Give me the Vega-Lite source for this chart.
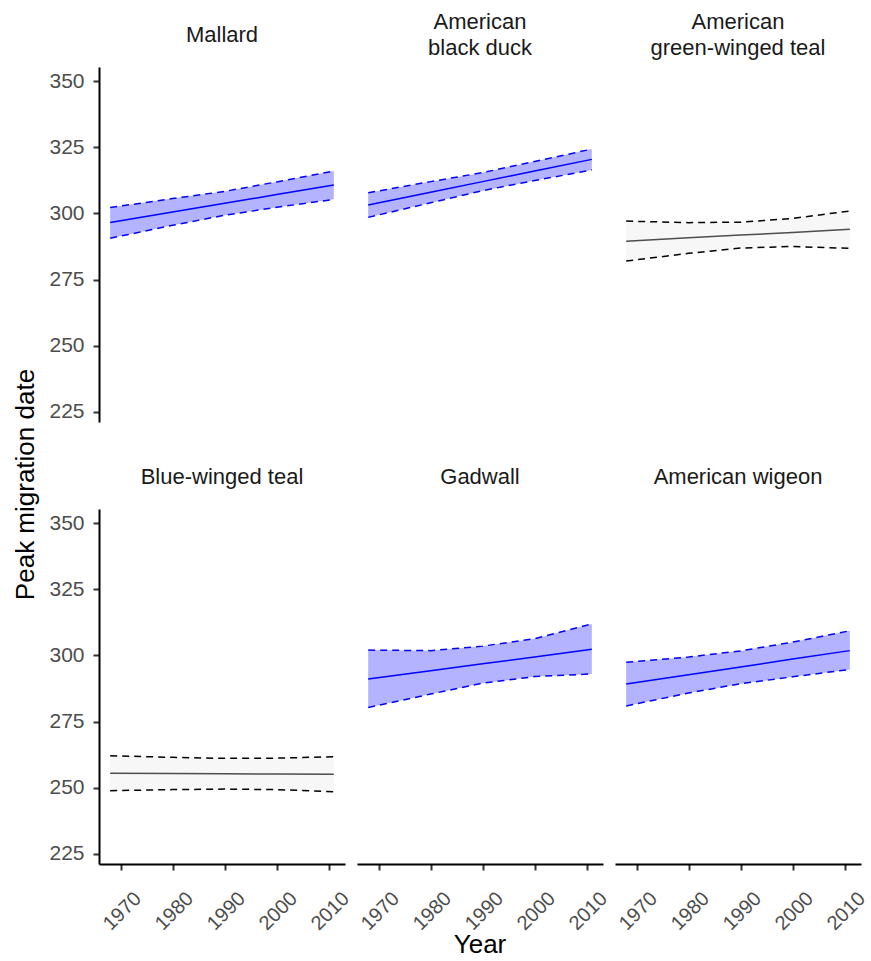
{
  "$schema": "https://vega.github.io/schema/vega-lite/v6.json",
  "padding": {"left": 12, "top": 11, "right": 5, "bottom": 0},
  "title": {
    "text": "Peak migration date",
    "orient": "left",
    "anchor": "middle",
    "font": "Liberation Sans",
    "fontSize": 26,
    "fontWeight": "normal",
    "color": "#000000",
    "offset": 10
  },
  "data": {"values": [
    {"species": "Mallard", "order": 1, "sig": true, "year": 1968, "lwr": 290.6, "fit": 296.6, "upr": 302.2},
    {"species": "Mallard", "order": 1, "sig": true, "year": 1980, "lwr": 295.5, "fit": 300.5, "upr": 305.6},
    {"species": "Mallard", "order": 1, "sig": true, "year": 1990, "lwr": 299.3, "fit": 303.8, "upr": 308.3},
    {"species": "Mallard", "order": 1, "sig": true, "year": 2000, "lwr": 302.3, "fit": 307.1, "upr": 311.9},
    {"species": "Mallard", "order": 1, "sig": true, "year": 2011, "lwr": 305.3, "fit": 310.7, "upr": 316.0},
    {"species": "American black duck", "order": 2, "sig": true, "year": 1968, "lwr": 298.5, "fit": 303.2, "upr": 307.8},
    {"species": "American black duck", "order": 2, "sig": true, "year": 1980, "lwr": 304.0, "fit": 308.0, "upr": 312.0},
    {"species": "American black duck", "order": 2, "sig": true, "year": 1990, "lwr": 308.6, "fit": 312.0, "upr": 315.4},
    {"species": "American black duck", "order": 2, "sig": true, "year": 2000, "lwr": 312.4, "fit": 316.0, "upr": 319.6},
    {"species": "American black duck", "order": 2, "sig": true, "year": 2011, "lwr": 316.4, "fit": 320.4, "upr": 324.3},
    {"species": "American green-winged teal", "order": 3, "sig": false, "year": 1968, "lwr": 282.0, "fit": 289.5, "upr": 297.1},
    {"species": "American green-winged teal", "order": 3, "sig": false, "year": 1980, "lwr": 284.9, "fit": 290.8, "upr": 296.5},
    {"species": "American green-winged teal", "order": 3, "sig": false, "year": 1990, "lwr": 286.9, "fit": 291.8, "upr": 296.7},
    {"species": "American green-winged teal", "order": 3, "sig": false, "year": 2000, "lwr": 287.5, "fit": 292.8, "upr": 298.1},
    {"species": "American green-winged teal", "order": 3, "sig": false, "year": 2011, "lwr": 286.8, "fit": 294.0, "upr": 300.9},
    {"species": "Blue-winged teal", "order": 4, "sig": false, "year": 1968, "lwr": 248.9, "fit": 255.5, "upr": 262.1},
    {"species": "Blue-winged teal", "order": 4, "sig": false, "year": 1980, "lwr": 249.3, "fit": 255.4, "upr": 261.5},
    {"species": "Blue-winged teal", "order": 4, "sig": false, "year": 1990, "lwr": 249.5, "fit": 255.3, "upr": 261.1},
    {"species": "Blue-winged teal", "order": 4, "sig": false, "year": 2000, "lwr": 249.3, "fit": 255.2, "upr": 261.2},
    {"species": "Blue-winged teal", "order": 4, "sig": false, "year": 2011, "lwr": 248.5, "fit": 255.1, "upr": 261.7},
    {"species": "Gadwall", "order": 5, "sig": true, "year": 1968, "lwr": 280.3, "fit": 291.1, "upr": 302.0},
    {"species": "Gadwall", "order": 5, "sig": true, "year": 1980, "lwr": 285.4, "fit": 294.2, "upr": 301.8},
    {"species": "Gadwall", "order": 5, "sig": true, "year": 1990, "lwr": 289.5, "fit": 296.8, "upr": 303.5},
    {"species": "Gadwall", "order": 5, "sig": true, "year": 2000, "lwr": 292.0, "fit": 299.4, "upr": 306.3},
    {"species": "Gadwall", "order": 5, "sig": true, "year": 2011, "lwr": 293.0, "fit": 302.3, "upr": 311.9},
    {"species": "American wigeon", "order": 6, "sig": true, "year": 1968, "lwr": 280.9, "fit": 289.2, "upr": 297.4},
    {"species": "American wigeon", "order": 6, "sig": true, "year": 1980, "lwr": 285.8, "fit": 292.7, "upr": 299.4},
    {"species": "American wigeon", "order": 6, "sig": true, "year": 1990, "lwr": 289.3, "fit": 295.6, "upr": 301.7},
    {"species": "American wigeon", "order": 6, "sig": true, "year": 2000, "lwr": 291.9, "fit": 298.6, "upr": 305.0},
    {"species": "American wigeon", "order": 6, "sig": true, "year": 2011, "lwr": 294.7, "fit": 301.8, "upr": 309.3}
  ]},
  "facet": {
    "field": "species",
    "type": "nominal",
    "sort": {"field": "order", "op": "min"},
    "title": "Year",
    "header": {
      "labelExpr": "datum.value == 'American black duck' ? ['American', '\u200b', 'black duck'] : datum.value == 'American green-winged teal' ? ['American', '\u200b', 'green-winged teal'] : [datum.value, '\u200b']",
      "labelFont": "Liberation Sans",
      "labelFontSize": 22,
      "labelColor": "#1a1a1a",
      "labelBaseline": "middle",
      "labelLineHeight": 13,
      "labelPadding": -3,
      "labelOrient": "top",
      "titleOrient": "bottom",
      "titleFont": "Liberation Sans",
      "titleFontSize": 26,
      "titleFontWeight": "normal",
      "titleColor": "#000000",
      "titlePadding": -2
    }
  },
  "columns": 3,
  "spacing": {"column": 12, "row": 44},
  "spec": {
    "width": 246,
    "height": 355,
    "encoding": {
      "x": {
        "field": "year", "type": "quantitative",
        "scale": {"domain": [1965.85, 2013.15], "nice": false, "zero": false},
        "axis": {"title": null, "values": [1970, 1980, 1990, 2000, 2010], "format": "d"}
      }
    },
    "layer": [
      {
        "mark": {"type": "area"},
        "encoding": {
          "y": {"field": "lwr", "type": "quantitative",
            "scale": {"domain": [221.2, 355.3], "nice": false, "zero": false},
            "axis": {"title": null, "values": [225, 250, 275, 300, 325, 350], "labelFontSize": 21, "labelPadding": 9}},
          "y2": {"field": "upr"},
          "fill": {"condition": {"test": "datum.sig", "value": "#b3b3ff"}, "value": "#f7f7f7"}
        }
      },
      {
        "mark": {"type": "line", "strokeWidth": 1.5},
        "encoding": {
          "y": {"field": "fit", "type": "quantitative"},
          "stroke": {"condition": {"test": "datum.sig", "value": "#0000ff"}, "value": "#4d4d4d"}
        }
      },
      {
        "mark": {"type": "line", "strokeWidth": 1.5, "strokeDash": [7, 5]},
        "encoding": {
          "y": {"field": "lwr", "type": "quantitative"},
          "stroke": {"condition": {"test": "datum.sig", "value": "#0000ff"}, "value": "#000000"}
        }
      },
      {
        "mark": {"type": "line", "strokeWidth": 1.5, "strokeDash": [7, 5]},
        "encoding": {
          "y": {"field": "upr", "type": "quantitative"},
          "stroke": {"condition": {"test": "datum.sig", "value": "#0000ff"}, "value": "#000000"}
        }
      }
    ]
  },
  "config": {
    "font": "Liberation Sans",
    "view": {"stroke": null},
    "axis": {
      "grid": false,
      "domainColor": "#000000",
      "domainWidth": 2,
      "tickColor": "#333333",
      "tickWidth": 2,
      "tickSize": 6,
      "labelFont": "Liberation Sans",
      "labelFontSize": 20,
      "labelColor": "#4d4d4d",
      "labelPadding": 4
    },
    "axisX": {"labelAngle": -45, "labelAlign": "right", "labelBaseline": "top", "labelPadding": 18, "labelOffset": 10}
  }
}
